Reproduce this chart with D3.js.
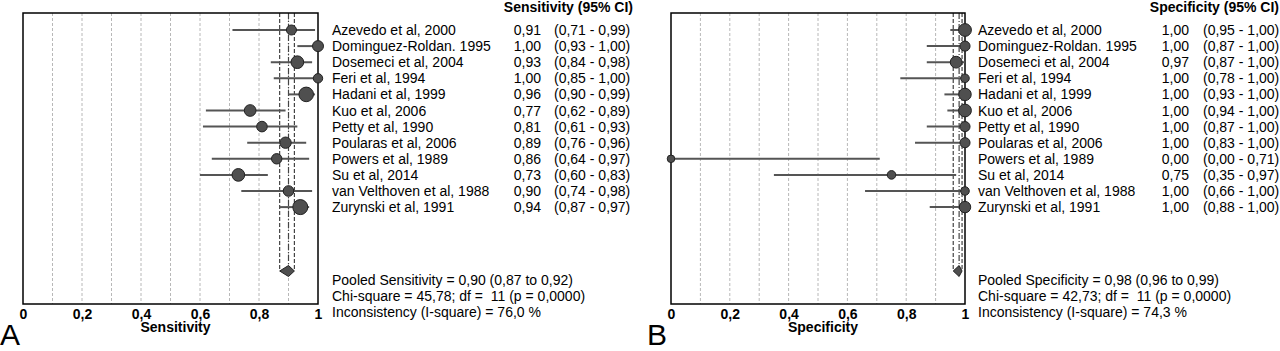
<!DOCTYPE html>
<html>
<head>
<meta charset="utf-8">
<script src="https://cdn.jsdelivr.net/npm/d3@7"></script>
<style>
  html, body { margin: 0; padding: 0; background: #fff; }
  svg { display: block; }
  text { font-family: "Liberation Sans", Arial, sans-serif; white-space: pre; }
</style>
</head>
<body>
<div id="chart"></div>
<script>
// Forest plots of sensitivity and specificity (Meta-DiSc style)

const studies = [
  'Azevedo et al, 2000', 'Dominguez-Roldan. 1995', 'Dosemeci et al, 2004',
  'Feri et al, 1994', 'Hadani et al, 1999', 'Kuo et al, 2006',
  'Petty et al, 1990', 'Poularas et al, 2006', 'Powers et al, 1989',
  'Su et al, 2014', 'van Velthoven et al, 1988', 'Zurynski et al, 1991'
];

const sensEst = [0.91, 1.00, 0.93, 1.00, 0.96, 0.77, 0.81, 0.89, 0.86, 0.73, 0.90, 0.94];
const sensLo  = [0.71, 0.93, 0.84, 0.85, 0.90, 0.62, 0.61, 0.76, 0.64, 0.60, 0.74, 0.87];
const sensHi  = [0.99, 1.00, 0.98, 1.00, 0.99, 0.89, 0.93, 0.96, 0.97, 0.83, 0.98, 0.97];
// relative study weight (marker area)
const sensWeight = [25, 30, 40, 22, 53, 34, 28, 32, 27, 40, 28, 56];

const specEst = [1.00, 1.00, 0.97, 1.00, 1.00, 1.00, 1.00, 1.00, 0.00, 0.75, 1.00, 1.00];
const specLo  = [0.95, 0.87, 0.87, 0.78, 0.93, 0.94, 0.87, 0.83, 0.00, 0.35, 0.66, 0.88];
const specHi  = [1.00, 1.00, 1.00, 1.00, 1.00, 1.00, 1.00, 1.00, 0.71, 0.97, 1.00, 1.00];
const specWeight = [40, 25, 34, 18, 38, 40, 25, 25, 14, 18, 18, 32];

// pooled: [estimate, lower, upper], chi-square, df, p, I-square
const sensPooled = [0.90, 0.87, 0.92];
const sensStats = [45.78, 11, 0.0000, 76.0];
const specPooled = [0.98, 0.96, 0.99];
const specStats = [42.73, 11, 0.0000, 74.3];

const xTicks = [0, 0.2, 0.4, 0.6, 0.8, 1];
const gridTicks = [0.1, 0.2, 0.3, 0.4, 0.5, 0.6, 0.7, 0.8, 0.9];

const W = 1280, H = 351;
const comma = f => v => d3.format(f)(v).replace('.', ',');
const f2 = comma('.2f');

const svg = d3.select('#chart').append('svg')
  .attr('width', W)
  .attr('height', H);

const plotTop = 13, plotBottom = 304;
const y = d3.scalePoint()
  .domain(d3.range(studies.length + 4))
  .range([30, 30 + 16.1 * (studies.length + 3)]);

function drawPanel(cfg) {
  const g = svg.append('g');
  const x = d3.scaleLinear().domain([0, 1]).range([cfg.x0, cfg.x1]);
  const r = d3.scaleSqrt().domain([0, d3.max(cfg.weight)]).range([0, cfg.rMax]);

  // dashed gridlines
  g.append('g').selectAll('line')
    .data(gridTicks)
    .join('line')
    .attr('x1', d => x(d)).attr('x2', d => x(d))
    .attr('y1', plotTop).attr('y2', plotBottom)
    .attr('stroke', '#b8b8b8')
    .attr('stroke-width', 1)
    .attr('stroke-dasharray', '3,2');

  // pooled estimate reference lines
  const diamondY = 271;
  g.append('g').selectAll('line')
    .data(cfg.pooled)
    .join('line')
    .attr('x1', d => x(d)).attr('x2', d => x(d))
    .attr('y1', plotTop).attr('y2', diamondY)
    .attr('stroke', '#444')
    .attr('stroke-width', 1.2)
    .attr('stroke-dasharray', (d, i) => i === 0 ? '6,2,1,2' : '4,2');

  // frame
  g.append('rect')
    .attr('x', cfg.x0).attr('y', plotTop)
    .attr('width', cfg.x1 - cfg.x0).attr('height', plotBottom - plotTop)
    .attr('fill', 'none')
    .attr('stroke', '#000')
    .attr('stroke-width', 1.5);

  // confidence intervals
  g.append('g').selectAll('line')
    .data(studies)
    .join('line')
    .attr('x1', (d, i) => x(cfg.lo[i]))
    .attr('x2', (d, i) => x(cfg.hi[i]))
    .attr('y1', (d, i) => y(i)).attr('y2', (d, i) => y(i))
    .attr('stroke', '#555')
    .attr('stroke-width', 2);

  // point estimates
  g.append('g').selectAll('circle')
    .data(studies)
    .join('circle')
    .attr('cx', (d, i) => x(cfg.est[i]))
    .attr('cy', (d, i) => y(i))
    .attr('r', (d, i) => r(cfg.weight[i]))
    .attr('fill', '#4f4f4f')
    .attr('stroke', '#222')
    .attr('stroke-width', 1);

  // pooled diamond
  const [pe, pl, ph] = cfg.pooled;
  g.append('path')
    .attr('d', d3.line()([
      [x(pl), diamondY], [x(pe), diamondY - 5.5], [x(ph), diamondY], [x(pe), diamondY + 5.5]
    ]) + 'Z')
    .attr('fill', '#4f4f4f')
    .attr('stroke', '#222')
    .attr('stroke-width', 1);

  // x axis
  const axis = d3.axisBottom(x)
    .tickValues(xTicks)
    .tickSize(0)
    .tickFormat(d => (d === 0 || d === 1) ? d3.format('d')(d) : comma('.1f')(d));

  g.append('g')
    .attr('transform', `translate(0, ${plotBottom})`)
    .call(axis)
    .call(a => {
      a.select('.domain').remove();
      a.selectAll('.tick text')
        .attr('y', 14.5)
        .attr('dy', 0)
        .attr('fill', '#000')
        .attr('font-size', '14px')
        .attr('font-weight', 'bold')
        .attr('font-family', '"Liberation Sans", Arial, sans-serif');
    });

  g.append('text')
    .attr('x', (cfg.x0 + cfg.x1) / 2 + 5)
    .attr('y', 332)
    .attr('text-anchor', 'middle')
    .attr('font-size', '14px')
    .attr('font-weight', 'bold')
    .text(cfg.title);

  // panel letter
  g.append('text')
    .attr('x', cfg.letterX)
    .attr('y', 345)
    .attr('font-size', '30px')
    .text(cfg.letter);

  // study table
  g.append('text')
    .attr('x', cfg.headerX)
    .attr('y', 11.5)
    .attr('text-anchor', 'end')
    .attr('font-size', '14px')
    .attr('font-weight', 'bold')
    .text(`${cfg.title} (95% CI)`);

  const rows = g.append('g').attr('font-size', '14px').attr('fill', '#000');
  rows.selectAll('text.name')
    .data(studies)
    .join('text')
    .attr('class', 'name')
    .attr('x', cfg.labelX)
    .attr('y', (d, i) => y(i) + 5)
    .text(d => d);

  rows.selectAll('text.est')
    .data(studies)
    .join('text')
    .attr('class', 'est')
    .attr('x', cfg.valX)
    .attr('y', (d, i) => y(i) + 5)
    .attr('text-anchor', 'end')
    .text((d, i) => f2(cfg.est[i]));

  rows.selectAll('text.ci')
    .data(studies)
    .join('text')
    .attr('class', 'ci')
    .attr('x', cfg.ciX)
    .attr('y', (d, i) => y(i) + 5)
    .text((d, i) => `(${f2(cfg.lo[i])} - ${f2(cfg.hi[i])})`);

  // pooled summary
  const [chi, df, p, i2] = cfg.stats;
  const summary = [
    `Pooled ${cfg.title} = ${f2(pe)} (${f2(pl)} to ${f2(ph)})`,
    `Chi-square = ${f2(chi)}; df =  ${df} (p = ${comma('.4f')(p)})`,
    `Inconsistency (I-square) = ${comma('.1f')(i2)} %`
  ];
  rows.selectAll('text.sum')
    .data(summary)
    .join('text')
    .attr('class', 'sum')
    .attr('x', cfg.labelX)
    .attr('y', (d, i) => 285 + i * 16.2)
    .text(d => d);
}

drawPanel({
  title: 'Sensitivity', letter: 'A', letterX: 0,
  x0: 23, x1: 318,
  est: sensEst, lo: sensLo, hi: sensHi, weight: sensWeight, rMax: 7.5,
  pooled: sensPooled, stats: sensStats,
  labelX: 332, valX: 541, ciX: 554, headerX: 633
});

drawPanel({
  title: 'Specificity', letter: 'B', letterX: 647,
  x0: 671, x1: 965,
  est: specEst, lo: specLo, hi: specHi, weight: specWeight, rMax: 6.4,
  pooled: specPooled, stats: specStats,
  labelX: 978, valX: 1189, ciX: 1203, headerX: 1279
});
</script>
</body>
</html>
